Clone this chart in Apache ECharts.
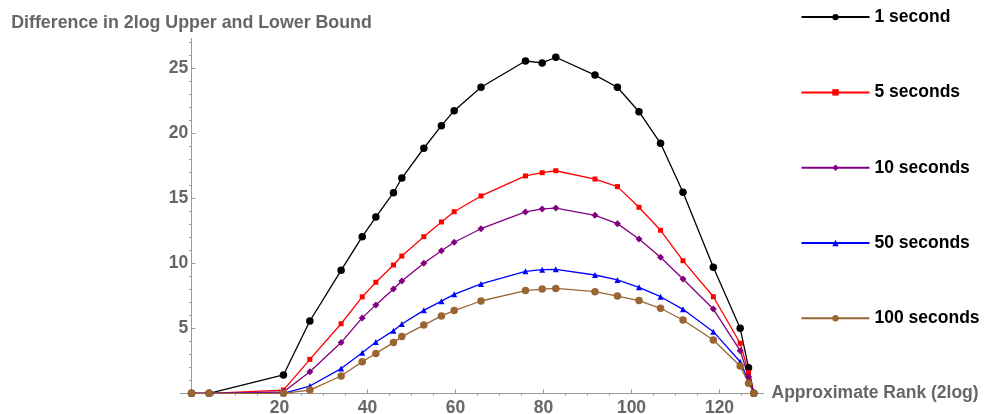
<!DOCTYPE html>
<html>
<head>
<meta charset="utf-8">
<script src="https://cdn.jsdelivr.net/npm/echarts@6/dist/echarts.min.js"></script>
<style>
html,body{margin:0;padding:0;background:#fff;}
#chart{width:984px;height:414px;}
</style>
</head>
<body>
<div id="chart"></div>
<script>
// Data
const xs = [0, 4, 20.9, 26.9, 34.0, 38.8, 41.9, 45.9, 47.8, 52.8, 56.8, 59.7, 65.8, 75.9, 79.7, 82.8, 91.7, 96.8, 101.7, 106.6, 111.7, 118.6, 124.7, 126.6, 127.8];
const s1 = [0, 0, 1.41, 5.56, 9.46, 12.05, 13.56, 15.43, 16.56, 18.85, 20.59, 21.74, 23.54, 25.56, 25.41, 25.85, 24.48, 23.54, 21.66, 19.23, 15.46, 9.69, 5.0, 1.97, 0];
const s5 = [0, 0, 0.25, 2.61, 5.35, 7.42, 8.54, 9.87, 10.56, 12.05, 13.18, 13.97, 15.18, 16.72, 16.97, 17.12, 16.48, 15.9, 14.31, 12.54, 10.2, 7.43, 3.85, 1.59, 0];
const s10 = [0, 0, 0.1, 1.66, 3.9, 5.8, 6.8, 8.02, 8.64, 10.0, 10.97, 11.62, 12.66, 13.95, 14.18, 14.25, 13.69, 13.05, 11.87, 10.46, 8.79, 6.48, 3.28, 1.28, 0];
const s50 = [0, 0, 0, 0.56, 1.9, 3.12, 3.95, 4.82, 5.33, 6.38, 7.09, 7.61, 8.41, 9.38, 9.51, 9.54, 9.1, 8.72, 8.15, 7.43, 6.46, 4.74, 2.43, 0.95, 0];
const s100 = [0, 0, 0, 0.25, 1.33, 2.43, 3.07, 3.9, 4.36, 5.25, 5.95, 6.36, 7.1, 7.9, 8.02, 8.07, 7.82, 7.48, 7.13, 6.54, 5.64, 4.1, 2.1, 0.77, 0];
const seriesNames = ['1 second', '5 seconds', '10 seconds', '50 seconds', '100 seconds'];
const xMajorTicks = [20, 40, 60, 80, 100, 120];
const xMinorTicks = [5, 10, 15, 25, 30, 35, 45, 50, 55, 65, 70, 75, 85, 90, 95, 105, 110, 115, 125];
const yMajorTicks = [5, 10, 15, 20, 25];
const yMinorTicks = [1, 2, 3, 4, 6, 7, 8, 9, 11, 12, 13, 14, 16, 17, 18, 19, 21, 22, 23, 24, 26, 27];

const seriesValues = [s1, s5, s10, s50, s100];
const colors = ['#000000', '#ff0000', '#800080', '#0000ff', '#996633'];
const symbols = ['circle', 'rect', 'diamond', 'triangle', 'circle'];
const symbolSizes = [7.5, 5, 7, 6, 7.5];

const FONT = '"Liberation Sans", Arial, Helvetica, sans-serif';
const AX = '#9a9a9a';
const LBL = '#666666';
const FS = 17.5;

const X_MIN = -2.6, X_MAX = 130, Y_MIN = -0.25, Y_MAX = 27.3;

const chart = echarts.init(document.getElementById('chart'), null, {renderer: 'canvas'});

function zipData(vals) { return xs.map((x, i) => [x, vals[i]]); }

const option = {
  animation: false,
  backgroundColor: '#ffffff',
  textStyle: {fontFamily: FONT},
  grid: {left: 180.06, right: 220.5, top: 38.4, bottom: 17.45, containLabel: false, outerBoundsMode: 'none'},
  legend: {
    orient: 'vertical',
    left: 800.5,
    top: 8.1,
    padding: 0,
    itemWidth: 68,
    itemHeight: 8,
    itemGap: 57.3,
    textStyle: {fontFamily: FONT, fontSize: FS, fontWeight: 'bold', color: '#000'},
    data: seriesNames
  },
  xAxis: [
    {
      type: 'value', min: X_MIN, max: X_MAX,
      axisLine: {show: true, onZero: true, onZeroAxisIndex: 0, lineStyle: {color: AX, width: 1}},
      axisTick: {show: true, inside: true, length: 4, customValues: xMajorTicks, lineStyle: {color: AX}},
      axisLabel: {show: true, customValues: xMajorTicks, margin: 2.5, color: LBL, fontSize: FS, fontWeight: 'bold', fontFamily: FONT},
      splitLine: {show: false},
      name: 'Approximate Rank (2log)', nameLocation: 'end', nameGap: 8,
      nameTextStyle: {color: LBL, fontSize: FS, fontWeight: 'bold', fontFamily: FONT}
    },
    {
      type: 'value', min: X_MIN, max: X_MAX,
      axisLine: {show: false, onZero: true, onZeroAxisIndex: 0},
      axisTick: {show: true, inside: true, length: 2.5, customValues: xMinorTicks, lineStyle: {color: AX}},
      axisLabel: {show: false},
      splitLine: {show: false}
    }
  ],
  yAxis: [
    {
      type: 'value', min: Y_MIN, max: Y_MAX,
      axisLine: {show: true, onZero: true, onZeroAxisIndex: 0, lineStyle: {color: AX, width: 1}},
      axisTick: {show: true, inside: true, length: 4, customValues: yMajorTicks, lineStyle: {color: AX}},
      axisLabel: {show: true, customValues: yMajorTicks, margin: -8.2, color: LBL, fontSize: FS, fontWeight: 'bold', fontFamily: FONT},
      splitLine: {show: false},
      name: 'Difference in 2log Upper and Lower Bound', nameLocation: 'end', nameGap: 6,
      nameTextStyle: {color: LBL, fontSize: 17.8, fontWeight: 'bold', fontFamily: FONT}
    },
    {
      type: 'value', min: Y_MIN, max: Y_MAX,
      axisLine: {show: false, onZero: true, onZeroAxisIndex: 0},
      axisTick: {show: true, inside: true, length: 2.5, customValues: yMinorTicks, lineStyle: {color: AX}},
      axisLabel: {show: false},
      splitLine: {show: false}
    }
  ],
  series: seriesNames.map((name, i) => ({
    name: name,
    type: 'line',
    xAxisIndex: 0,
    yAxisIndex: 0,
    data: zipData(seriesValues[i]),
    symbol: symbols[i],
    symbolSize: symbolSizes[i],
    showAllSymbol: true,
    clip: false,
    lineStyle: {color: colors[i], width: 1.3},
    itemStyle: {color: colors[i]},
    emphasis: {disabled: true}
  }))
};
chart.setOption(option);
</script>
</body>
</html>
